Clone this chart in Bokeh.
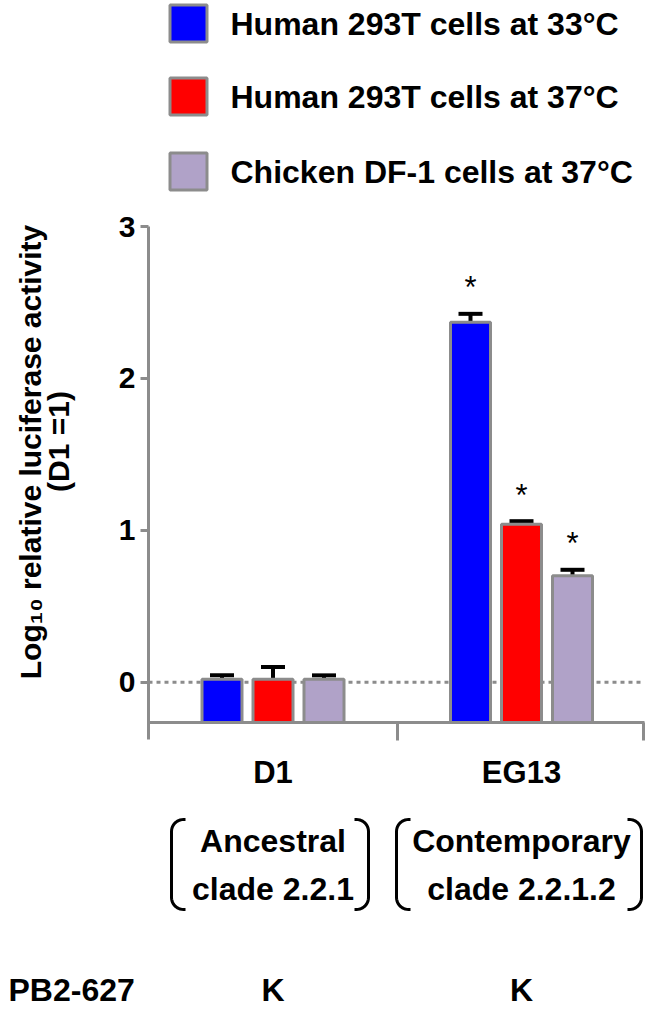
import numpy as np
from bokeh.plotting import figure
from bokeh.models import Range1d, LinearAxis, FixedTicker, ColumnDataSource, Whisker, TeeHead
from bokeh.core.properties import value
from bokeh.embed import file_html
from bokeh.resources import INLINE

# ---------------- data ----------------
groups = ["D1", "EG13"]
series = ["Human 293T cells at 33°C", "Human 293T cells at 37°C", "Chicken DF-1 cells at 37°C"]
colors = ["#0000FF", "#FF0000", "#B0A2C8"]
d1_means = [0.02, 0.02, 0.02]
d1_errs = [0.025, 0.08, 0.025]
eg13_means = [2.37, 1.04, 0.70]
eg13_errs = [0.055, 0.02, 0.04]
d1_signif = [False, False, False]
eg13_signif = [True, True, True]
y_ticks = [0, 1, 2, 3]
y_title = ["Log₁₀ relative luciferase activity", "(D1 =1)"]
clade_line1 = ["Ancestral", "Contemporary"]
clade_line2 = ["clade 2.2.1", "clade 2.2.1.2"]
pb2_label = "PB2-627"
pb2_residues = ["K", "K"]

# ---------------- layout (page pixels -> data) ----------------
W, H = 650, 1011
X0_PX, X_SCALE = 272.5, 248.5
Y0_PX, Y_SCALE = 681.7, 151.9


def X(px):
    return (px - X0_PX) / X_SCALE


def Y(py):
    return (Y0_PX - py) / Y_SCALE


GREY = "#8c8c8c"
FONT = value("Liberation Sans")
AX_LEFT = X(148)
AX_RIGHT = X(644)
XAXIS_Y = Y(722)
YAXIS_BOTTOM = Y(739)
BAR_OFFSET = 51 / X_SCALE
BAR_WIDTH = 40 / X_SCALE
STAR_GAP = 30 / Y_SCALE

p = figure(width=W, height=H, x_range=Range1d(X(0), X(W)), y_range=Range1d(Y(H), Y(0)),
           x_axis_type=None, y_axis_type=None, toolbar_location=None, output_backend="svg",
           min_border=0, min_border_left=0, min_border_right=0, min_border_top=0, min_border_bottom=0,
           outline_line_color=None, background_fill_color="white", border_fill_color="white")
p.xgrid.visible = False
p.ygrid.visible = False

# dotted zero line
p.segment(x0=[AX_LEFT], x1=[AX_RIGHT - 2 / X_SCALE], y0=[0], y1=[0], line_color=GREY, line_width=3,
          line_dash="4 4")

# bars
xs, tops, errs, cols, sig = [], [], [], [], []
for g, (means, es, sg) in enumerate([(d1_means, d1_errs, d1_signif), (eg13_means, eg13_errs, eg13_signif)]):
    for i in range(len(series)):
        xs.append(g + (i - 1) * BAR_OFFSET)
        tops.append(means[i])
        errs.append(es[i])
        cols.append(colors[i])
        sig.append(sg[i])
src = ColumnDataSource(dict(x=xs, top=tops, upper=[t + e for t, e in zip(tops, errs)], color=cols))
p.vbar(x="x", top="top", bottom=XAXIS_Y, width=BAR_WIDTH, fill_color="color", line_color=GREY,
       line_width=3, source=src)

wh = Whisker(base="x", lower="top", upper="upper", source=src, line_color="black", line_width=4,
             upper_head=TeeHead(size=24, line_width=4, line_color="black"), lower_head=None)
p.add_layout(wh)

# asterisks
sx = [x for x, s in zip(xs, sig) if s]
sy = [t + e + STAR_GAP - 4 / Y_SCALE for t, e, s in zip(tops, errs, sig) if s]
p.text(x=sx, y=sy, text=["*"] * len(sx), text_font=FONT, text_font_size="31px",
       text_align="center", text_baseline="alphabetic", text_color="black")

# axes
yaxis = LinearAxis(ticker=FixedTicker(ticks=y_ticks, minor_ticks=[]), fixed_location=AX_LEFT,
                   bounds=(YAXIS_BOTTOM, 3))
yaxis.axis_line_color = GREY
yaxis.axis_line_width = 3
yaxis.major_tick_line_color = GREY
yaxis.major_tick_line_width = 3
yaxis.major_tick_out = 8
yaxis.major_tick_in = 0
yaxis.minor_tick_out = 0
yaxis.minor_tick_in = 0
yaxis.major_label_standoff = 5
yaxis.major_label_text_font = "Liberation Sans"
yaxis.major_label_text_font_style = "bold"
yaxis.major_label_text_font_size = "30px"
yaxis.major_label_text_color = "black"
p.add_layout(yaxis, "left")

xaxis = LinearAxis(ticker=FixedTicker(ticks=[0.5, X(643)], minor_ticks=[]), fixed_location=XAXIS_Y,
                   bounds=(AX_LEFT, AX_RIGHT))
xaxis.axis_line_color = GREY
xaxis.axis_line_width = 3
xaxis.major_tick_line_color = GREY
xaxis.major_tick_line_width = 3
xaxis.major_tick_out = 18
xaxis.major_tick_in = 0
xaxis.minor_tick_out = 0
xaxis.major_label_text_color = None
p.add_layout(xaxis, "below")

cataxis = LinearAxis(ticker=FixedTicker(ticks=[0, 1], minor_ticks=[]), fixed_location=XAXIS_Y,
                     bounds=(AX_LEFT, AX_RIGHT))
cataxis.axis_line_color = None
cataxis.major_tick_line_color = None
cataxis.minor_tick_line_color = None
cataxis.major_label_overrides = {0: groups[0], 1: groups[1]}
cataxis.major_label_standoff = 26
cataxis.major_label_text_font = "Liberation Sans"
cataxis.major_label_text_font_style = "bold"
cataxis.major_label_text_font_size = "31px"
cataxis.major_label_text_color = "black"
p.add_layout(cataxis, "below")

# y title
p.text(x=[X(29.5), X(58)], y=[Y(451.5), Y(441)], text=y_title, angle=np.pi / 2,
       text_font=FONT, text_font_style="bold", text_font_size="30px",
       text_align="center", text_baseline="middle", text_color="black")

# legend
leg_y = [Y(23), Y(96), Y(171)]
p.scatter(x=[X(188)] * 3, y=leg_y, marker="square", size=37, fill_color=colors, line_color=GREY,
          line_width=3)
p.text(x=[X(230)] * 3, y=leg_y, text=series, text_font=FONT, text_font_style="bold",
       text_font_size="32px", text_align="left", text_baseline="middle", text_color="black")

# clade brackets
def bracket(xo, top, bot, side, r=12, arm=14):
    pts = [(xo + side * arm, top)]
    for th in np.linspace(90, 180, 12):
        t = np.radians(th)
        pts.append((xo + side * (r + r * np.cos(t)), top + r - r * np.sin(t)))
    for th in np.linspace(180, 270, 12):
        t = np.radians(th)
        pts.append((xo + side * (r + r * np.cos(t)), bot - r - r * np.sin(t)))
    pts.append((xo + side * arm, bot))
    return [X(a) for a, b in pts], [Y(b) for a, b in pts]


bxs, bys = [], []
for left_px, right_px in [(171, 368), (396, 641)]:
    for xo, side in [(left_px, 1), (right_px, -1)]:
        bx, by = bracket(xo, 819, 909, side)
        bxs.append(bx)
        bys.append(by)
p.multi_line(xs=bxs, ys=bys, line_color="black", line_width=3)

p.text(x=[0, 1], y=[Y(840)] * 2, text=clade_line1, text_font=FONT, text_font_style="bold",
       text_font_size="32px", text_align="center", text_baseline="middle", text_color="black")
p.text(x=[0, 1], y=[Y(888)] * 2, text=clade_line2, text_font=FONT, text_font_style="bold",
       text_font_size="32px", text_align="center", text_baseline="middle", text_color="black")

# PB2-627 row
p.text(x=[X(8)], y=[Y(989)], text=[pb2_label], text_font=FONT, text_font_style="bold",
       text_font_size="32px", text_align="left", text_baseline="middle", text_color="black")
p.text(x=[0, 1], y=[Y(989)] * 2, text=pb2_residues, text_font=FONT, text_font_style="bold",
       text_font_size="32px", text_align="center", text_baseline="middle", text_color="black")

open("out.html", "w").write(file_html(p, INLINE))
